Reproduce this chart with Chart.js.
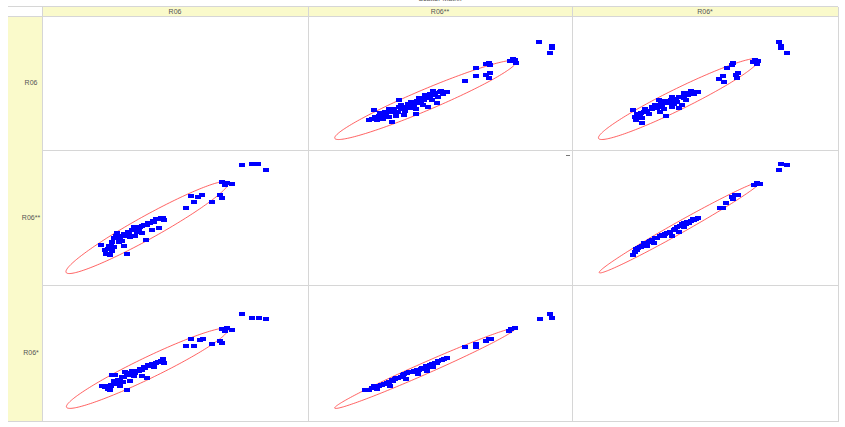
<!DOCTYPE html>
<html>
<head>
<meta charset="utf-8">
<script src="https://cdn.jsdelivr.net/npm/chart.js@4.4.1/dist/chart.umd.min.js"></script>
<style>
  body { margin: 0; background: #fff; font-family: "Liberation Sans", Arial, sans-serif; }
  #wrap { position: relative; width: 845px; height: 427px; overflow: hidden; }
  .abs { position: absolute; box-sizing: border-box; }
  .yellow { background: #fafacb; }
  .lbl { color: #555; font-size: 7px; text-align: center; white-space: nowrap; }
  .line { background: #d6d6d6; }
</style>
</head>
<body>
<div id="wrap"></div>
<script>
// variable names (row variable on y, column variable on x)
const variables = ['R06', 'R06**', 'R06*'];

// which cell each scatter panel sits in
const panelRows = [0, 0, 1, 1, 2, 2];
const panelCols = [1, 2, 0, 2, 0, 1];

// values, x = column variable, y = row variable
const panel12X = [234,247,247,245,207,209,204,210,182,179,184,169,184,179,182,169,158,125,132,139,135,127,122,119,115,124,112,109,102,90,105,99,92,85,79,75,82,72,69,64,62,59,67,79,87,95,107,120,129,114,82,92,99,110,117,130,107,89,75,
    70,76,80,84,90,95,100,104,108,113,118,122,127,133,65,73,96,102];
const panel12Y = [112,107,105,100,94,92,91,89,89,88,87,84,79,77,73,75,70,60,58,58,56,55,53,52,50,50,48,47,48,50,43,42,40,40,40,37,37,35,33,39,30,29,29,32,33,34,35,42,47,45,27,45,46,52,55,53,40,37,33,
    36,35,38,38,42,43,45,47,49,51,53,56,57,59,32,30,38,41];

const panel13X = [208,210,210,216,183,186,181,185,161,160,155,166,164,165,150,146,151,125,118,121,115,111,105,103,98,95,91,85,98,88,83,78,71,70,75,65,60,61,58,68,92,108,113,105,81,86,98,110,88,73,63,
    66,72,78,82,87,93,97,102,107,112,117,122,62,68,90,100];
const panel13Y = [112,107,105,100,93,91,90,88,89,87,84,79,77,73,75,72,69,58,59,56,55,52,53,48,49,47,49,50,43,42,41,40,40,37,35,33,32,29,39,26,33,45,50,41,45,37,53,57,45,38,34,
    36,37,42,43,46,47,50,51,53,55,57,58,35,31,40,46];

const panel21X = [201,211,217,225,180,185,190,183,160,156,148,151,143,178,180,170,120,121,115,111,106,103,98,95,90,88,93,85,81,78,86,73,70,75,66,63,61,65,56,68,80,83,102,116,108,98,78,91,
    64,68,72,76,80,84,89,92,96,100,104,109,113,118,60,70,86,95];
const panel21Y = [123,124,124,118,105,104,103,102,92,90,91,84,78,92,89,84,68,65,66,63,62,60,59,58,58,55,53,52,49,48,47,52,46,42,38,35,30,29,39,33,38,30,44,57,55,52,43,48,
    38,42,48,46,51,53,55,56,58,60,62,64,66,67,34,37,49,54];

const panel23X = [210,216,208,185,188,182,163,160,166,161,153,150,147,125,121,116,113,110,106,103,100,96,93,98,90,86,81,78,75,71,68,65,61,60,58,80,73,105,111,118,108,88,70,63,
    62,66,72,76,83,91,95,101,108,114,120,123];
const panel23Y = [124,123,118,104,103,102,92,90,92,88,83,78,78,67,65,62,61,62,59,58,55,53,52,49,49,48,46,44,42,40,38,37,35,32,28,41,38,53,58,64,60,50,41,36,
    34,37,40,43,46,51,52,56,61,63,66,66];

const panel31X = [201,211,218,225,180,185,190,183,148,158,161,143,151,178,180,170,120,121,115,108,105,101,98,95,91,88,85,81,80,76,73,70,66,63,60,57,68,71,83,103,111,98,86,76,65,
    62,66,70,74,78,83,87,92,96,100,104,109,113,118,64,79,90];
const panel31Y = [109,105,105,104,93,94,92,91,83,82,83,75,75,81,79,77,62,58,59,56,54,52,50,49,47,49,45,48,43,39,38,36,33,30,32,33,45,45,29,42,53,44,39,34,29,
    33,35,39,40,43,46,47,49,51,53,55,57,58,60,30,38,44];

const panel32X = [235,245,247,205,209,203,182,185,179,169,169,158,139,134,129,124,120,115,110,105,100,95,92,89,84,79,74,69,64,59,55,67,80,97,109,119,125,130,112,86,72,
    57,62,66,71,77,82,87,94,98,103,108,113,118,122,127,136];
const panel32Y = [104,109,105,93,94,91,83,83,81,77,74,74,63,61,58,56,53,52,50,49,48,46,43,42,39,38,36,34,33,29,29,30,34,41,46,49,53,60,51,41,35,
    29,31,33,35,37,40,42,45,47,48,50,52,54,55,58,62];

const panelX = [panel12X, panel13X, panel21X, panel23X, panel31X, panel32X];
const panelY = [panel12Y, panel13Y, panel21Y, panel23Y, panel31Y, panel32Y];

// confidence ellipse per panel (centre, half axes, tilt in degrees)
const ellipseCx = [117, 105, 103.5, 106, 103.5, 116.5];
const ellipseCy = [50, 51, 57.5, 57.5, 52, 52];
const ellipseA = [102, 92, 95.5, 95, 92, 102];
const ellipseB = [11, 11, 12, 6, 11, 6];
const ellipseAngle = [23.6, 27.1, 29.8, 30.1, 26.3, 24.1];

// grid layout of the matrix
const colEdges = [42, 308, 572, 838];
const rowEdges = [16, 150, 285, 421];

const wrap = document.getElementById('wrap');

function box(cls, x, y, w, h, text) {
    const d = document.createElement('div');
    d.className = 'abs ' + cls;
    d.style.left = x + 'px';
    d.style.top = y + 'px';
    d.style.width = w + 'px';
    d.style.height = h + 'px';
    if (text) {
        d.textContent = text;
        d.style.lineHeight = h + 'px';
    }
    wrap.appendChild(d);
    return d;
}

// title, mostly cut off at the top edge
box('lbl', 400, -6, 80, 9, 'Scatter Matrix');

// header band and row label column
box('yellow', colEdges[0], 7, colEdges[3] - colEdges[0], rowEdges[0] - 7);
box('yellow', 8, rowEdges[0], colEdges[0] - 8, rowEdges[3] - rowEdges[0]);
box('line', 8, 6, colEdges[3] - 8, 1);

variables.forEach((name, i) => {
    box('lbl', colEdges[i], 7, colEdges[i + 1] - colEdges[i], rowEdges[0] - 7, name);
    box('lbl', 20, rowEdges[i], 22, rowEdges[i + 1] - rowEdges[i], name);
});

// grid lines
box('line', 8, rowEdges[0], colEdges[3] - 8, 1);
for (let r = 1; r < rowEdges.length; r++) {
    box('line', colEdges[0], rowEdges[r], colEdges[3] - colEdges[0], 1);
}
box('line', 8, rowEdges[3], colEdges[0] - 8, 1);
for (let c = 0; c < colEdges.length; c++) {
    box('line', colEdges[c], 7, 1, rowEdges[3] - 7 + 1);
}
// small handle mark in the middle cell
const mark = box('', 566, 155, 4, 1);
mark.style.background = '#777';

// blue rectangle marker
const marker = document.createElement('canvas');
marker.width = 6;
marker.height = 4;
const mctx = marker.getContext('2d');
mctx.fillStyle = '#0000ff';
mctx.fillRect(0, 0, 6, 4);

// draws the red ellipse under the points, through the chart scales
const ellipsePlugin = {
    id: 'ellipse',
    beforeDatasetsDraw(chart, args, opts) {
        if (opts.a === undefined) return;
        const xs = chart.scales.x;
        const ys = chart.scales.y;
        const ctx = chart.ctx;
        const th = opts.angle * Math.PI / 180;
        ctx.save();
        ctx.beginPath();
        for (let i = 0; i <= 180; i++) {
            const t = i / 180 * 2 * Math.PI;
            const ex = opts.cx + opts.a * Math.cos(t) * Math.cos(th) - opts.b * Math.sin(t) * Math.sin(th);
            const ey = opts.cy + opts.a * Math.cos(t) * Math.sin(th) + opts.b * Math.sin(t) * Math.cos(th);
            const px = xs.getPixelForValue(ex);
            const py = ys.getPixelForValue(ey);
            if (i === 0) ctx.moveTo(px, py); else ctx.lineTo(px, py);
        }
        ctx.closePath();
        ctx.strokeStyle = 'rgba(255, 50, 50, 0.85)';
        ctx.lineWidth = 0.9;
        ctx.stroke();
        ctx.restore();
    }
};

panelRows.forEach((row, p) => {
    const col = panelCols[p];
    const left = colEdges[col] + 1;
    const top = rowEdges[row] + 1;
    const w = colEdges[col + 1] - colEdges[col] - 1;
    const h = rowEdges[row + 1] - rowEdges[row] - 1;

    const canvas = document.createElement('canvas');
    canvas.width = w;
    canvas.height = h;
    canvas.style.position = 'absolute';
    canvas.style.left = left + 'px';
    canvas.style.top = top + 'px';
    canvas.style.width = w + 'px';
    canvas.style.height = h + 'px';
    wrap.appendChild(canvas);

    const points = panelX[p].map((x, i) => ({ x: x, y: panelY[p][i] }));

    new Chart(canvas, {
        type: 'scatter',
        data: {
            datasets: [{
                data: points,
                pointStyle: marker,
                pointRadius: 3,
                pointHoverRadius: 3,
                backgroundColor: '#0000ff',
                borderWidth: 0
            }]
        },
        options: {
            responsive: false,
            animation: false,
            devicePixelRatio: 1,
            events: [],
            layout: { padding: 0 },
            plugins: {
                legend: { display: false },
                tooltip: { enabled: false },
                ellipse: {
                    cx: ellipseCx[p],
                    cy: ellipseCy[p],
                    a: ellipseA[p],
                    b: ellipseB[p],
                    angle: ellipseAngle[p]
                }
            },
            scales: {
                x: { type: 'linear', display: false, min: 0, max: 265 },
                y: { type: 'linear', display: false, min: 0, max: 135 }
            }
        },
        plugins: [ellipsePlugin]
    });
});
</script>
</body>
</html>
